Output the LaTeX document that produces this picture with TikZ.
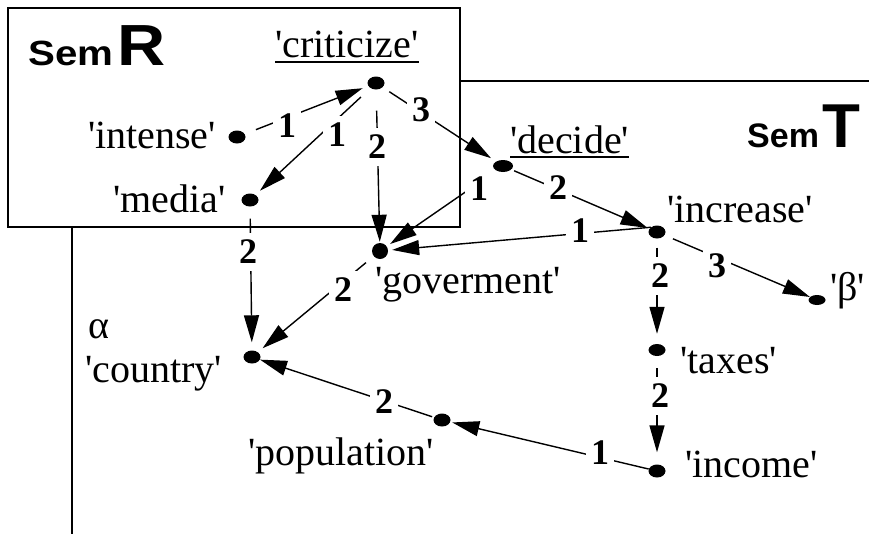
\documentclass[tikz,border=0pt]{standalone}
\usepackage{fontspec}
\setmainfont{Liberation Serif}
\newfontfamily\semfont{Liberation Sans}
\newfontfamily\semwide[FakeStretch=1.15]{Liberation Sans}
\usetikzlibrary{arrows.meta,shapes.geometric}
\newcommand\apos{\textquotesingle}
\begin{document}
\begin{tikzpicture}[x=1pt,y=-1pt,
  dot/.style={ellipse,fill=black,inner sep=0pt,minimum width=17pt,minimum height=13pt},
  word/.style={anchor=base west,inner sep=0pt,font=\fontsize{40}{44}\selectfont},
  lab/.style={fill=white,inner xsep=5pt,inner ysep=7pt,font=\fontsize{36}{38}\selectfont\bfseries},
  edge/.style={line width=1.4pt,-{Triangle[length=27pt,width=15pt]}},
  frame/.style={line width=1.3pt},
  uline/.style={line width=1.8pt},
  semtitle/.style={anchor=base west,inner sep=0pt}]
\useasboundingbox (0,0) rectangle (869,533);
% frames
\draw[frame] (72,560) -- (72,81) -- (890,81);
\draw[frame,fill=white] (8,8) rectangle (460,227);
\node[semtitle] (semR) at (28,65) {\semwide\bfseries\fontsize{35}{40}\selectfont Sem\kern4pt\fontsize{58}{60}\selectfont R};
\node[semtitle] (semT) at (747,147) {\semfont\bfseries\fontsize{34}{40}\selectfont Sem\kern3pt\fontsize{62}{64}\selectfont T};
% dots
\node[dot] (cr) at (376,83) {};
\node[dot] (in) at (237,137) {};
\node[dot] (me) at (250,200) {};
\node[dot,minimum width=16pt,minimum height=16pt] (go) at (380,251) {};
\node[dot,minimum width=20pt,minimum height=12pt] (de) at (503,166) {};
\node[dot] (ic) at (657,232) {};
\node[dot,minimum height=10pt] (be) at (817,300) {};
\node[dot,minimum height=12pt] (ta) at (657,350) {};
\node[dot] (inc) at (657,471) {};
\node[dot] (po) at (442,420) {};
\node[dot] (co) at (252,357) {};
% edges
\draw[edge,shorten <=12pt,shorten >=6pt] (in) -- (cr);
\draw[edge,shorten <=13pt,shorten >=6pt] (cr) -- (me);
\draw[edge,shorten <=21pt,shorten >=1pt] (cr) -- (go);
\draw[edge,shorten <=8pt,shorten >=6pt] (cr) -- (de);
\draw[edge,shorten <=6pt,shorten >=4pt] (de) -- (go);
\draw[edge,shorten <=3pt,shorten >=2pt] (de) -- (ic);
\draw[edge,shorten >=4pt] (ic.north west) -- (go);
\draw[edge,shorten <=9pt] (ic) -- (be);
\draw[edge,shorten <=9pt,shorten >=10pt] (ic) -- (ta);
\draw[edge,shorten <=12pt,shorten >=12pt] (ta) -- (inc);
\draw[edge,shorten >=2pt] (inc) -- (po);
\draw[edge,shorten <=2pt] (po) -- (co);
\draw[edge,shorten <=10pt,shorten >=6pt] (go) -- (co);
\draw[edge,shorten <=12pt,shorten >=8pt] (me) -- (co);
% edge labels
\node[lab] (l1) at (287,126) {1};
\node[lab] (l2) at (337,135) {1};
\node[lab] (l3) at (377,147) {2};
\node[lab] (l4) at (421,110) {3};
\node[lab] (l5) at (479,189) {1};
\node[lab] (l6) at (558,188) {2};
\node[lab] (l7) at (580,231) {1};
\node[lab] (l8) at (717,266) {3};
\node[lab] (l9) at (660,276) {2};
\node[lab] (l10) at (660,396) {2};
\node[lab] (l11) at (600,453) {1};
\node[lab] (l12) at (384,402) {2};
\node[lab] (l13) at (343,290) {2};
\node[lab] (l14) at (248,252) {2};
% words
\node[word] (tcr) at (275,57) {\apos criticize\apos};
\draw[uline] ([yshift=-5pt]tcr.base west) -- ([yshift=-5pt]tcr.base east);
\node[word] (tin) at (88,148) {\apos intense\apos};
\node[word] (tme) at (113,212) {\apos media\apos};
\node[word] (tde) at (510,153) {\apos decide\apos};
\draw[uline] ([yshift=-4pt]tde.base west) -- ([yshift=-4pt]tde.base east);
\node[word] (tic) at (667,222) {\apos increase\apos};
\node[word] (tgo) at (375,293) {\apos goverment\apos};
\node[word] (tbe) at (830,300) {\apos β\apos};
\node[word] (tta) at (680,373) {\apos taxes\apos};
\node[word] (tinc) at (685,477) {\apos income\apos};
\node[word] (tal) at (88,338) {α};
\node[word] (tco) at (85,382) {\apos country\apos};
\node[word] (tpo) at (248,465) {\apos population\apos};
\end{tikzpicture}
\end{document}
